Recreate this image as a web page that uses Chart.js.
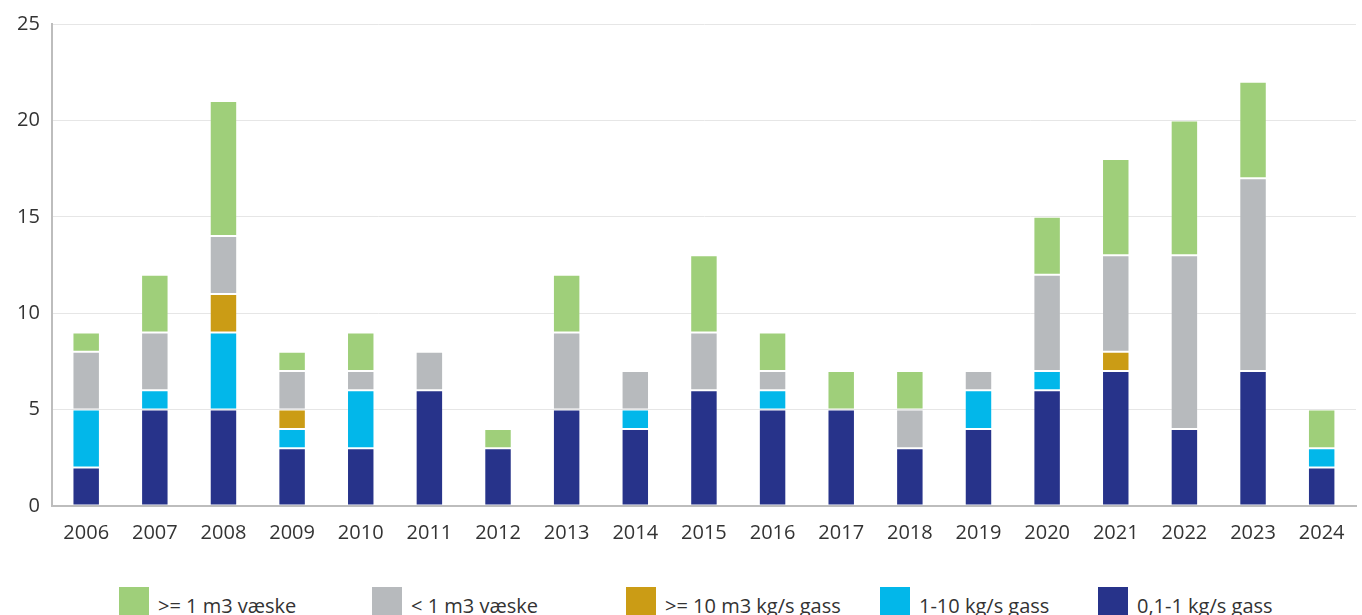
<!DOCTYPE html>
<html>
<head>
<meta charset="utf-8">
<script src="https://cdn.jsdelivr.net/npm/chart.js@4"></script>
<style>
  body { margin: 0; background: #fff; font-family: "Open Sans", sans-serif; }
  #wrap { position: relative; width: 1362px; height: 552px; }
  #legend { position: absolute; top: 587px; left: 119px; display: flex; white-space: nowrap; }
  .item { display: flex; align-items: flex-start; font-size: 20px; color: #333; }
  .box { width: 30px; height: 28px; margin-right: 9px; }
  .item span { line-height: 40px; margin-top: -1px; }
</style>
</head>
<body>
<div id="wrap"><canvas id="chart"></canvas></div>
<div id="legend"></div>
<script>
const years = ['2006','2007','2008','2009','2010','2011','2012','2013','2014','2015','2016','2017','2018','2019','2020','2021','2022','2023','2024'];

// stacked from the bottom up
const gasSmall  = [2, 5, 5, 3, 3, 6, 3, 5, 4, 6, 5, 5, 3, 4, 6, 7, 4, 7, 2];
const gasMid    = [3, 1, 4, 1, 3, 0, 0, 0, 1, 0, 1, 0, 0, 2, 1, 0, 0, 0, 1];
const gasLarge  = [0, 0, 2, 1, 0, 0, 0, 0, 0, 0, 0, 0, 0, 0, 0, 1, 0, 0, 0];
const liqSmall  = [3, 3, 3, 2, 1, 2, 0, 4, 2, 3, 1, 0, 2, 1, 5, 5, 9, 10, 0];
const liqLarge  = [1, 3, 7, 1, 2, 0, 1, 3, 0, 4, 2, 2, 2, 0, 3, 5, 7, 5, 2];

const series = [
    { label: '0,1-1 kg/s gass',    data: gasSmall, color: '#27338a' },
    { label: '1-10 kg/s gass',     data: gasMid,   color: '#02b7ea' },
    { label: '>= 10 m3 kg/s gass', data: gasLarge, color: '#cb9c15' },
    { label: '< 1 m3 væske',       data: liqSmall, color: '#b7babd' },
    { label: '>= 1 m3 væske',      data: liqLarge, color: '#9fcf7a' }
];

const tickFont = { family: 'Open Sans', size: 20 };

new Chart(document.getElementById('chart').getContext('2d'), {
    type: 'bar',
    data: {
        labels: years,
        datasets: series.map(s => ({
            label: s.label,
            data: s.data,
            backgroundColor: s.color,
            borderColor: 'rgba(255,255,255,0.12)',
            borderWidth: 1,
            borderSkipped: false,
            categoryPercentage: 1,
            barPercentage: 0.4
        }))
    },
    options: {
        responsive: true,
        maintainAspectRatio: false,
        animation: false,
        layout: { padding: { top: 8, right: 6, left: 5 } },
        plugins: {
            legend: { display: false },
            tooltip: { enabled: false }
        },
        scales: {
            x: {
                stacked: true,
                grid: { display: false },
                border: { color: '#bdbdbd', width: 2 },
                ticks: { color: '#333', font: tickFont, padding: 7 }
            },
            y: {
                stacked: true,
                min: 0,
                max: 25,
                grid: { color: '#e6e6e6', drawTicks: false },
                border: { color: '#bdbdbd', width: 2 },
                ticks: { stepSize: 5, color: '#333', font: tickFont, padding: 12 }
            }
        }
    }
});

// legend, listed top of stack first
const legend = document.getElementById('legend');
const widths = [253, 254, 254, 218, 220];
series.slice().reverse().forEach((s, i) => {
    const item = document.createElement('div');
    item.className = 'item';
    item.style.width = widths[i] + 'px';
    item.innerHTML = '<div class="box" style="background:' + s.color + '"></div><span>' + s.label + '</span>';
    legend.appendChild(item);
});
</script>
</body>
</html>
